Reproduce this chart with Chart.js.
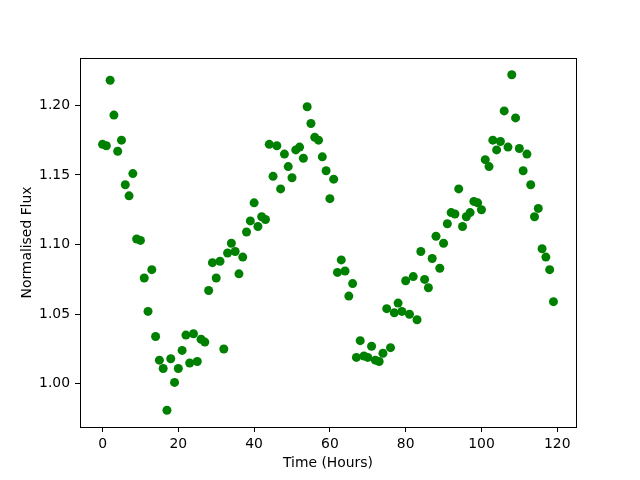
<!DOCTYPE html>
<html>
<head>
<meta charset="utf-8">
<script src="https://cdn.jsdelivr.net/npm/chart.js@4/dist/chart.umd.min.js"></script>
<style>
  html, body { margin: 0; padding: 0; background: #fff; }
</style>
</head>
<body>
<canvas id="myChart" width="640" height="480"></canvas>
<script>
const hours = [
  0, 1, 2, 3, 4, 5, 6, 7, 8, 9, 10, 11, 12, 13, 14, 15, 16, 17, 18, 19,
  20, 21, 22, 23, 24, 25, 26, 27, 28, 29, 30, 31, 32, 33, 34, 35, 36, 37, 38, 39,
  40, 41, 42, 43, 44, 45, 46, 47, 48, 49, 50, 51, 52, 53, 54, 55, 56, 57, 58, 59,
  60, 61, 62, 63, 64, 65, 66, 67, 68, 69, 70, 71, 72, 73, 74, 75, 76, 77, 78, 79,
  80, 81, 82, 83, 84, 85, 86, 87, 88, 89, 90, 91, 92, 93, 94, 95, 96, 97, 98, 99,
  100, 101, 102, 103, 104, 105, 106, 107, 108, 109, 110, 111, 112, 113, 114, 115, 116, 117, 118, 119
];
const flux = [
  1.172, 1.171, 1.218, 1.193, 1.167, 1.175, 1.143, 1.135, 1.151, 1.104,
  1.103, 1.076, 1.052, 1.082, 1.034, 1.017, 1.011, 0.981, 1.018, 1.001,
  1.011, 1.024, 1.035, 1.015, 1.036, 1.016, 1.032, 1.030, 1.067, 1.087,
  1.076, 1.088, 1.025, 1.094, 1.101, 1.095, 1.079, 1.091, 1.109, 1.117,
  1.130, 1.113, 1.120, 1.118, 1.172, 1.149, 1.171, 1.140, 1.165, 1.156,
  1.148, 1.168, 1.170, 1.162, 1.199, 1.187, 1.177, 1.175, 1.163, 1.153,
  1.133, 1.147, 1.080, 1.089, 1.081, 1.063, 1.072, 1.019, 1.031, 1.020,
  1.019, 1.027, 1.017, 1.016, 1.022, 1.054, 1.026, 1.051, 1.058, 1.052,
  1.074, 1.050, 1.077, 1.046, 1.095, 1.075, 1.069, 1.090, 1.106, 1.083,
  1.101, 1.115, 1.123, 1.122, 1.140, 1.113, 1.120, 1.123, 1.131, 1.130,
  1.125, 1.161, 1.156, 1.175, 1.168, 1.174, 1.196, 1.170, 1.222, 1.191,
  1.169, 1.153, 1.165, 1.143, 1.120, 1.126, 1.097, 1.091, 1.082, 1.059
];
const xTicks = [0, 20, 40, 60, 80, 100, 120];
const yTicks = [1.00, 1.05, 1.10, 1.15, 1.20];

const font = { family: "'DejaVu Sans', sans-serif", size: 13.9 };

// top and right spines, like matplotlib's box
const boxPlugin = {
  id: "box",
  afterDraw(chart) {
    const { ctx, chartArea: a } = chart;
    ctx.save();
    ctx.strokeStyle = "#000";
    ctx.lineWidth = 1;
    ctx.strokeRect(Math.round(a.left) + 0.5, Math.round(a.top) + 0.5,
      Math.round(a.right - a.left), Math.round(a.bottom - a.top));
    ctx.restore();
  }
};

function makeChart() {
  return new Chart("myChart", {
    type: "scatter",
    data: {
      datasets: [{
        data: hours.map((h, i) => ({ x: h, y: flux[i] })),
        backgroundColor: "#008000",
        borderWidth: 0,
        pointRadius: 4.5,
        pointHoverRadius: 4.5
      }]
    },
    options: {
      responsive: false,
      animation: false,
      layout: { padding: { top: 58, right: 64, left: 0, bottom: 0 } },
      plugins: { legend: { display: false }, tooltip: { enabled: false } },
      scales: {
        x: {
          type: "linear",
          min: -5.95,
          max: 124.95,
          afterBuildTicks: (scale) => { scale.ticks = xTicks.map(v => ({ value: v })); },
          afterFit: (scale) => { scale.height = 53; },
          grid: { drawOnChartArea: false, drawTicks: true, tickLength: 5, color: "#000" },
          border: { display: true, color: "#000", width: 1 },
          ticks: { color: "#000", font: font, padding: 4, maxRotation: 0 },
          title: {
            display: true, text: "Time (Hours)", color: "#000", font: font,
            padding: { top: 0, bottom: 8.6 }
          }
        },
        y: {
          min: 0.969,
          max: 1.234,
          afterBuildTicks: (scale) => { scale.ticks = yTicks.map(v => ({ value: v })); },
          afterFit: (scale) => { scale.width = 80; },
          grid: { drawOnChartArea: false, drawTicks: true, tickLength: 5, color: "#000" },
          border: { display: true, color: "#000", width: 1 },
          ticks: { color: "#000", font: font, padding: 5, callback: (v) => Number(v).toFixed(2) },
          title: {
            display: true, text: "Normalised Flux", color: "#000", font: font,
            padding: { top: 18.6, bottom: 0 }
          }
        }
      }
    },
    plugins: [boxPlugin]
  });
}

const chart = makeChart();
</script>
</body>
</html>
